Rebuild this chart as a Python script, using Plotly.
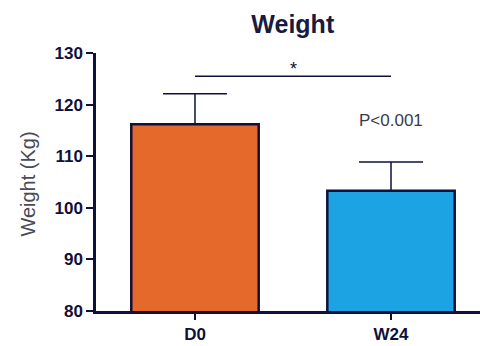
# plot.py
import plotly.graph_objects as go

groups = ["D0", "W24"]
means = [116.2, 103.3]
sd_upper = [5.9, 5.6]
bar_colors = ["#E4692B", "#1CA3E3"]
y_ticks = [80, 90, 100, 110, 120, 130]
sig_y = 125.5
p_label = "P<0.001"

navy = "#10103a"
font = "Liberation Sans, Arial"

fig = go.Figure()

fig.add_trace(
    go.Bar(
        x=groups,
        y=means,
        base=0,
        width=0.65,
        marker=dict(color=bar_colors, line=dict(color=navy, width=2.5)),
        error_y=dict(
            type="data",
            symmetric=False,
            array=sd_upper,
            arrayminus=[0, 0],
            color=navy,
            thickness=1.5,
            width=32,
        ),
        showlegend=False,
    )
)

# significance bar
fig.add_trace(
    go.Scatter(
        x=groups,
        y=[sig_y, sig_y],
        mode="lines",
        line=dict(color=navy, width=1.5),
        showlegend=False,
        hoverinfo="skip",
    )
)

fig.add_annotation(
    x=0.5, y=sig_y, xref="x", yref="y", text="*", showarrow=False,
    yshift=7, font=dict(size=18, color=navy, family=font),
)
fig.add_annotation(
    x=1.0, y=means[1] + sd_upper[1] + 8.0, xref="x", yref="y", text=p_label,
    showarrow=False, font=dict(size=17, color="#3a3a4c", family=font),
)
fig.add_annotation(
    x=-0.177, y=0.49, xref="paper", yref="paper", text="Weight (Kg)", textangle=-90,
    showarrow=False, xanchor="center", yanchor="middle",
    font=dict(size=20, color="#4a4a58", family=font),
)

fig.update_layout(
    width=480,
    height=346,
    margin=dict(l=96, r=0, t=53, b=35, autoexpand=False),
    plot_bgcolor="white",
    paper_bgcolor="white",
    font=dict(family=font, color=navy),
    title=dict(
        text="<b>Weight</b>", x=0.61, xanchor="center", y=0.93, yanchor="middle",
        font=dict(size=25, color="#1a1a40"),
    ),
    xaxis=dict(
        range=[-0.505, 1.454],
        showline=True, linecolor=navy, linewidth=2.5,
        ticks="outside", ticklen=6, tickwidth=2, tickcolor=navy,
        tickvals=groups, ticktext=["<b>%s</b>" % g for g in groups],
        tickfont=dict(size=17, color=navy, family=font),
        showgrid=False, automargin=False,
    ),
    yaxis=dict(
        range=[80, 130],
        tickvals=y_ticks, ticktext=["<b>%d</b>" % v for v in y_ticks],
        showline=True, linecolor=navy, linewidth=2.5,
        ticks="outside", ticklen=7, tickwidth=2, tickcolor=navy,
        tickfont=dict(size=17, color=navy, family=font),
        showgrid=False, zeroline=False, automargin=False,
    ),
)

fig.write_html(
    "out.html",
    config={"displayModeBar": False},
    post_script="document.body.style.margin='0';",
)
